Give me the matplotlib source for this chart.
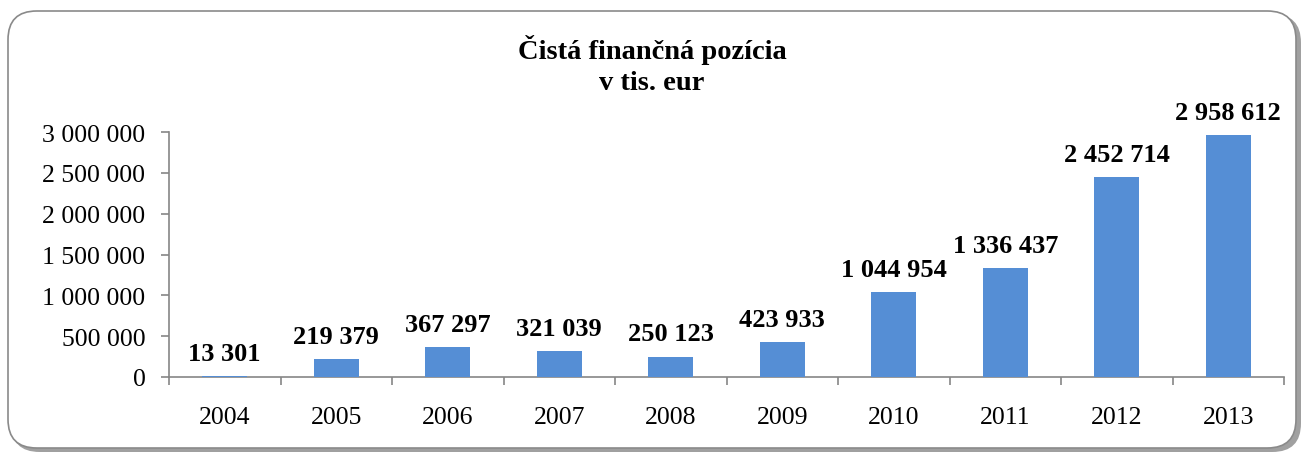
import matplotlib.pyplot as plt
from matplotlib.patches import FancyBboxPatch
from matplotlib.ticker import FuncFormatter, FixedLocator

# Data
years = ["2004", "2005", "2006", "2007", "2008", "2009", "2010", "2011", "2012", "2013"]
values = [13301, 219379, 367297, 321039, 250123, 423933, 1044954, 1336437, 2452714, 2958612]
y_ticks = [0, 500000, 1000000, 1500000, 2000000, 2500000, 3000000]

plt.rcParams['font.family'] = ['Liberation Serif', 'DejaVu Serif']

W, H = 1304, 456
fig = plt.figure(figsize=(W / 100, H / 100), dpi=100)

# Rounded frame with shadow
shadow = FancyBboxPatch((11 / W, 3 / H), 1290 / W, 438 / H,
                        boxstyle="round,pad=0,rounding_size=0.022",
                        transform=fig.transFigure, facecolor="#a0a0a0",
                        edgecolor="none", mutation_aspect=W / H, zorder=0)
frame = FancyBboxPatch((8 / W, 7 / H), 1288 / W, 437 / H,
                       boxstyle="round,pad=0,rounding_size=0.022",
                       transform=fig.transFigure, facecolor="white",
                       edgecolor="#8a8a8a", linewidth=1.2,
                       mutation_aspect=W / H, zorder=1)
fig.patches.append(shadow)
fig.patches.append(frame)

ax = fig.add_axes([169 / W, (H - 378) / H, (1284 - 169) / W, (378 - 133) / H])
ax.set_zorder(2)
ax.patch.set_alpha(0)

x = range(len(years))
bars = ax.bar(x, values, width=0.4, color="#558ed5", zorder=3)

ax.set_xlim(-0.5, len(years) - 0.5)
ax.set_ylim(0, 3000000)
ax.set_yticks(y_ticks)
ax.yaxis.set_major_formatter(FuncFormatter(lambda v, p: f"{int(v):,}".replace(",", " ")))

ax.set_xticks(list(x))
ax.set_xticklabels(years)
ax.xaxis.set_minor_locator(FixedLocator([i - 0.5 for i in range(len(years) + 1)]))
ax.tick_params(axis="x", which="major", length=0, pad=21, labelsize=18.5)
ax.tick_params(axis="x", which="minor", length=6, color="#868686", width=1.2)
ax.tick_params(axis="y", length=6, color="#868686", width=1.2, pad=11, labelsize=18.5)

for s in ["top", "right"]:
    ax.spines[s].set_visible(False)
for s in ["left", "bottom"]:
    ax.spines[s].set_color("#868686")
    ax.spines[s].set_linewidth(1.2)

for b, v in zip(bars, values):
    ax.annotate(f"{v:,}".replace(",", " "), (b.get_x() + b.get_width() / 2, v),
                xytext=(0, 8), textcoords="offset points", ha="center", va="bottom",
                fontsize=19, fontweight="bold", annotation_clip=False)

fig.text(0.5, 1 - 50 / H, "Čistá finančná pozícia", ha="center", va="center",
         fontsize=20.5, fontweight="bold")
fig.text(0.5, 1 - 83 / H, "v tis. eur", ha="center", va="center",
         fontsize=20.5, fontweight="bold")

fig.savefig("out.png", dpi=100)
